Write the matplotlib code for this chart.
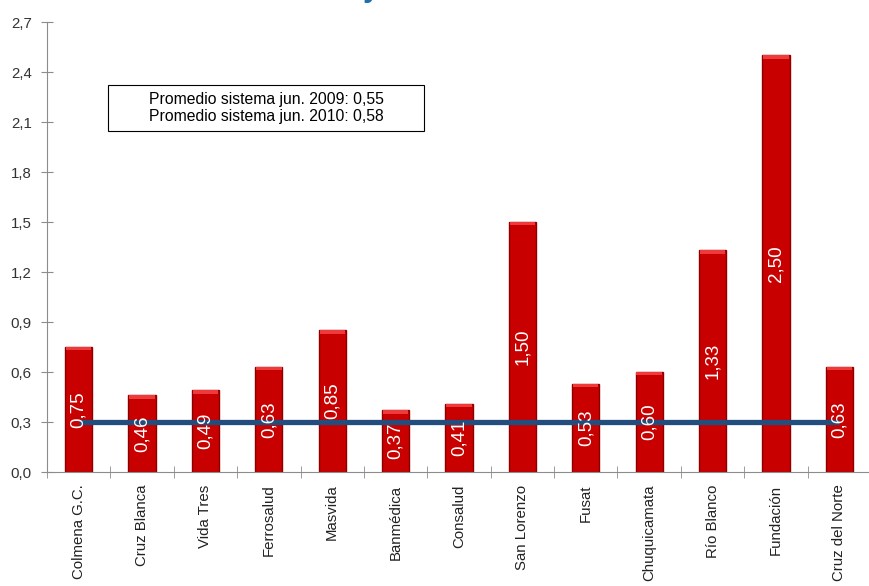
import numpy as np
import matplotlib
matplotlib.use("Agg")
import matplotlib.pyplot as plt
from matplotlib.patches import Rectangle

plt.rcParams['font.family'] = ['Liberation Sans', 'DejaVu Sans']

# data
isapres = ['Colmena G.C.', 'Cruz Blanca', 'Vida Tres', 'Ferrosalud', 'Masvida',
           'Banmédica', 'Consalud', 'San Lorenzo', 'Fusat', 'Chuquicamata',
           'Río Blanco', 'Fundación', 'Cruz del Norte']
valores = [0.75, 0.46, 0.49, 0.63, 0.85, 0.37, 0.41, 1.50, 0.53, 0.60, 1.33, 2.50, 0.63]
referencia = 0.30
yticks = [0.0, 0.3, 0.6, 0.9, 1.2, 1.5, 1.8, 2.1, 2.4, 2.7]
caja_txt = 'Promedio sistema jun. 2009: 0,55\nPromedio sistema jun. 2010: 0,58'

fig = plt.figure(figsize=(8.69, 5.86), dpi=100)
ax = fig.add_axes([47/869, 1-472/586, 824/869, 450/586])

x = np.arange(len(isapres))
vals = np.array(valores)
ax.bar(x, vals, width=0.43, color='#c90000', edgecolor='#8a0000', linewidth=1.0, zorder=2)
# light bevel on top of each bar
ax.bar(x, np.full(len(vals), 0.02), bottom=vals-0.02, width=0.40, color='#ee3a3a',
       linewidth=0, zorder=3)

ax.plot([x[0], x[-1]], [referencia, referencia], color='#234d7d', lw=3.8, zorder=4,
        solid_capstyle='butt')

for xi, v in zip(x, valores):
    ax.text(xi, v/2, f'{v:.2f}'.replace('.', ','), rotation=90, ha='center', va='center',
            color='white', fontsize=13.5, zorder=5)

ax.set_xlim(-0.5, len(isapres)-0.5)
ax.set_ylim(0, 2.7)
ax.set_yticks(yticks)
ax.set_yticklabels([f'{t:.1f}'.replace('.', ',') for t in yticks])
ax.set_xticks(x)
ax.set_xticklabels(isapres, rotation=90, ha='center', va='top')
ax.set_xticks(np.arange(-0.5, len(isapres)), minor=True)

for s in ['top', 'right']:
    ax.spines[s].set_visible(False)
for s in ['left', 'bottom']:
    ax.spines[s].set_color('#8c8c8c')
ax.tick_params(axis='x', which='major', length=0, pad=9, labelsize=10.8, colors='#222222')
ax.tick_params(axis='x', which='minor', length=9, color='#8c8c8c', direction='inout')
ax.tick_params(axis='y', length=9, color='#8c8c8c', direction='inout', labelsize=10.8,
               labelcolor='#333333', pad=6.5)

ax.add_patch(Rectangle((61/824, (472-131)/450), 316/824, 46/450, transform=ax.transAxes,
                       facecolor='white', edgecolor='black', lw=0.8, zorder=6))
ax.text((61+158)/824, (472-108)/450, caja_txt, transform=ax.transAxes, ha='center',
        va='center', fontsize=11.3, linespacing=1.15, zorder=7)

# title cut off at the top of the picture
fig.text(0.427, 1.006, 'y', fontsize=22, fontweight='bold', color='#1f6fa8', va='baseline',
         ha='center')

fig.savefig('out.png', dpi=100)
